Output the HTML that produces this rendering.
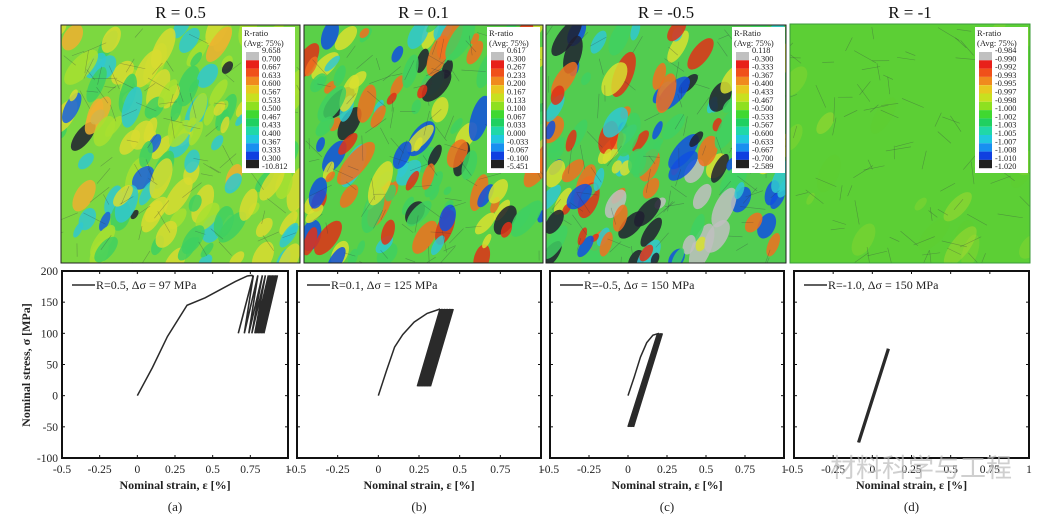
<!DOCTYPE html>
<html><head><meta charset="utf-8">
<style>
html,body{margin:0;padding:0;background:#fff;}
svg{display:block;}
</style></head>
<body>
<svg id="fig" width="1048" height="517" viewBox="0 0 1048 517" xmlns="http://www.w3.org/2000/svg">
<defs>
<clipPath id="clipA"><rect x="61" y="25" width="239" height="238"/></clipPath>
<clipPath id="clipB"><rect x="304" y="25" width="239" height="238"/></clipPath>
<clipPath id="clipC"><rect x="546" y="25" width="240" height="238"/></clipPath>
<clipPath id="clipD"><rect x="790" y="24" width="240" height="239"/></clipPath>
</defs>
<g id="maps"></g>
<g id="plots"></g>
<text x="830" y="477" font-family="Liberation Sans, 'Noto Sans CJK SC', sans-serif" font-size="26" fill="#bbb" fill-opacity="0.7">材料科学与工程</text>
</svg>
<script>
// ---- chart data ----
const xTicks = [-0.5,-0.25,0,0.25,0.5,0.75,1];
const xTickLabels = ["-0.5","-0.25","0","0.25","0.5","0.75","1"];
const yTicks = [200,150,100,50,0,-50,-100];
const yTickLabels = ["200","150","100","50","0","-50","-100"];
const legendLabels = ["R=0.5, \u0394\u03c3 = 97 MPa","R=0.1, \u0394\u03c3 = 125 MPa","R=-0.5, \u0394\u03c3 = 150 MPa","R=-1.0, \u0394\u03c3 = 150 MPa"];
const panelLetters = ["(a)","(b)","(c)","(d)"];
const mapTitles = ["R = 0.5","R = 0.1","R = -0.5","R = -1"];
// monotonic loading curves (strain %, stress MPa)
const loadStrainA = [0,0.1,0.2,0.33,0.45,0.55,0.65,0.73,0.76,0.77];
const loadStressA = [0,45,95,145,157,170,183,192,193,190];
const loadStrainB = [0,0.05,0.1,0.15,0.22,0.3,0.38];
const loadStressB = [0,40,78,98,118,132,139];
const loadStrainC = [0,0.04,0.08,0.12,0.16,0.2];
const loadStressC = [0,30,62,85,97,100];
const loadStrainD = [-0.09,0.1];
const loadStressD = [-75,75];
// cyclic loops: min/max strain per cycle, stress limits
const cycMinA = [0.67,0.71,0.74,0.76,0.78,0.79,0.80,0.81,0.82,0.83,0.84];
const cycMaxA = [0.77,0.80,0.83,0.85,0.87,0.88,0.89,0.90,0.91,0.92,0.93];
const cycStressA = [100,193];
const cycMinB = [0.24,0.25,0.26,0.27,0.28,0.29,0.30,0.31,0.32];
const cycMaxB = [0.38,0.39,0.40,0.41,0.42,0.43,0.44,0.45,0.46];
const cycStressB = [15,139];
const cycMinC = [0.0,0.01,0.02,0.03,0.035];
const cycMaxC = [0.19,0.2,0.21,0.215,0.22];
const cycStressC = [-50,100];
const cycMinD = [-0.09,-0.085];
const cycMaxD = [0.1,0.105];
const cycStressD = [-75,75];
// colorbar labels
const cbLabelsA = ["9.658","0.700","0.667","0.633","0.600","0.567","0.533","0.500","0.467","0.433","0.400","0.367","0.333","0.300","-10.812"];
const cbLabelsB = ["0.617","0.300","0.267","0.233","0.200","0.167","0.133","0.100","0.067","0.033","0.000","-0.033","-0.067","-0.100","-5.451"];
const cbLabelsC = ["0.118","-0.300","-0.333","-0.367","-0.400","-0.433","-0.467","-0.500","-0.533","-0.567","-0.600","-0.633","-0.667","-0.700","-2.589"];
const cbLabelsD = ["-0.984","-0.990","-0.992","-0.993","-0.995","-0.997","-0.998","-1.000","-1.002","-1.003","-1.005","-1.007","-1.008","-1.010","-1.020"];
const cbColors = ["#c0c0c0","#e8201a","#f0501a","#f08a1e","#e8c820","#c8e020","#8ee020","#40d830","#20d060","#20d8a8","#20c8e0","#1890f0","#1040e0","#0010b0","#202020"];

const NS="http://www.w3.org/2000/svg";
function mk(tag,attrs,parent){const e=document.createElementNS(NS,tag);for(const k in attrs)e.setAttribute(k,attrs[k]);parent.appendChild(e);return e;}
const maps=document.getElementById('maps');
const plots=document.getElementById('plots');

// ---- contour maps (decorative texture) ----
let seed=11;function rnd(){seed=(seed*16807)%2147483647;return (seed-1)/2147483646;}
const mapBoxes=[[61,25,239,238,'clipA'],[304,25,239,238,'clipB'],[546,25,240,238,'clipC'],[790,24,240,239,'clipD']];
const palettes=[
 [["#d8dc30",12],["#f0b030",3],["#30c8d0",5],["#1860e0",2],["#202030",1],["#a8e030",10],["#40d060",6]],
 [["#f07020",8],["#e03018",3],["#1050e0",4],["#202030",4],["#30c8d0",4],["#d8e030",6],["#40d060",8],["#c0c0c0",1]],
 [["#f07020",7],["#e03018",3],["#1050e0",5],["#202030",5],["#30c8d0",5],["#d8e030",4],["#40d060",8],["#c0c0c0",4]],
 [["#90d830",6],["#60cc30",6],["#b8dc30",2]]];
const bases=["#7cd840","#5ad048","#52cc50","#5ccf35"];
function pick(p){let t=0;p.forEach(c=>t+=c[1]);let r=rnd()*t;for(const c of p){r-=c[1];if(r<=0)return c[0];}return p[0][0];}
mapBoxes.forEach((b,i)=>{
  const g=mk('g',{'clip-path':'url(#'+b[4]+')'},maps);
  
  
  mk('rect',{x:b[0],y:b[1],width:b[2],height:b[3],fill:bases[i]},g);
  const n=i==3?20:140;
  for(let k=0;k<n;k++){
    const cx=b[0]+rnd()*b[2],cy=b[1]+rnd()*b[3];
    const rx=3+rnd()*7,ry=rx*(1.5+rnd()*1.2);
    mk('ellipse',{cx:cx,cy:cy,rx:rx,ry:ry,fill:pick(palettes[i]),'fill-opacity':i==3?0.4:0.85,transform:`rotate(${15+rnd()*30} ${cx} ${cy})`},g);
  }
  // grain boundaries
  for(let k=0;k<90;k++){
    const x=b[0]+rnd()*b[2],y=b[1]+rnd()*b[3],a=rnd()*Math.PI,l=10+rnd()*16;
    mk('line',{x1:x,y1:y,x2:x+Math.cos(a)*l,y2:y+Math.sin(a)*l,stroke:'#334',"stroke-opacity":0.35,'stroke-width':0.6},g);
  }
  mk('rect',{x:b[0],y:b[1],width:b[2],height:b[3],fill:'none',stroke:i==3?'#3a9a3a':'#222','stroke-width':1},maps);
  const t=mk('text',{x:b[0]+b[2]/2,y:18,'text-anchor':'middle','font-family':'Liberation Serif, serif','font-size':17,fill:'#111'},maps);
  t.textContent=mapTitles[i];
  
  
});
// colorbar legends
const cbPos=[[242,27,'R-ratio',cbLabelsA],[487,27,'R-ratio',cbLabelsB],[732,27,'R-Ratio',cbLabelsC],[975,27,'R-ratio',cbLabelsD]];
cbPos.forEach((c,i)=>{
  const g=mk('g',{},maps);
  
  
  mk('rect',{x:c[0],y:c[1],width:53,height:146,fill:'#fff'},g);
  const t1=mk('text',{x:c[0]+2,y:c[1]+9,'font-family':'Liberation Serif, serif','font-size':8.5,fill:'#222'},g);t1.textContent=c[2];
  const t2=mk('text',{x:c[0]+2,y:c[1]+19,'font-family':'Liberation Serif, serif','font-size':8.5,fill:'#222'},g);t2.textContent='(Avg: 75%)';
  for(let k=0;k<14;k++){
    mk('rect',{x:c[0]+4,y:c[1]+25+k*8.3,width:13,height:8.3,fill:cbColors[k==13?14:k]},g);
  }
  c[3].forEach((l,k)=>{
    const t=mk('text',{x:c[0]+20,y:c[1]+26+k*8.3,'font-family':'Liberation Serif, serif','font-size':8.3,fill:'#222'},g);t.textContent=l;
  });
});

// ---- stress-strain plots ----
const frames=[[62,288],[297,541],[550,784],[794,1029]];
const yTop=271,yBot=458;
const loads=[[loadStrainA,loadStressA],[loadStrainB,loadStressB],[loadStrainC,loadStressC],[loadStrainD,loadStressD]];
const cycs=[[cycMinA,cycMaxA,cycStressA],[cycMinB,cycMaxB,cycStressB],[cycMinC,cycMaxC,cycStressC],[cycMinD,cycMaxD,cycStressD]];
function yS(v){return yBot+(v-(-100))/(300)*(yTop-yBot);}
frames.forEach((f,i)=>{
  const xS=v=>f[0]+(v+0.5)/1.5*(f[1]-f[0]);
  const g=mk('g',{},plots);
  
  
  mk('rect',{x:f[0],y:yTop,width:f[1]-f[0],height:yBot-yTop,fill:'#fff',stroke:'#111','stroke-width':2},g);
  xTicks.forEach((v,k)=>{
    const x=xS(v);
    mk('line',{x1:x,y1:yBot,x2:x,y2:yBot-3,stroke:'#111'},g);
    mk('line',{x1:x,y1:yTop,x2:x,y2:yTop+3,stroke:'#111'},g);
    const t=mk('text',{x:x,y:yBot+15,'text-anchor':'middle','font-family':'Liberation Serif, serif','font-size':11.5,fill:'#222'},g);
    t.textContent=xTickLabels[k];
    
    
  });
  yTicks.forEach((v,k)=>{
    const y=yS(v);
    mk('line',{x1:f[0],y1:y,x2:f[0]+3,y2:y,stroke:'#111'},g);
    mk('line',{x1:f[1],y1:y,x2:f[1]-3,y2:y,stroke:'#111'},g);
    if(i==0){
      const t=mk('text',{x:f[0]-4,y:y+4,'text-anchor':'end','font-family':'Liberation Serif, serif','font-size':11.5,fill:'#222'},g);
      t.textContent=yTickLabels[k];
      
      
    }
  });
  const c=cycs[i];
  if(i>0){
    const n=c[0].length-1;
    const poly=[[c[0][0],c[2][0]],[c[0][n],c[2][0]],[c[1][n],c[2][1]],[c[1][0],c[2][1]]].map(p=>xS(p[0])+','+yS(p[1])).join(' ');
    const pg=mk('polygon',{points:poly,fill:'#2a2a2a'},g);
    
    
  }
  let d='';
  for(let k=0;k<c[0].length;k++){
    d+=`M${xS(c[0][k])},${yS(c[2][0])}L${xS(c[1][k])},${yS(c[2][1])}`;
    if(k+1<c[0].length)d+=`M${xS(c[1][k])},${yS(c[2][1])}L${xS(c[0][k+1])},${yS(c[2][0])}`;
  }
  const cp=mk('path',{d:d,fill:'none',stroke:'#2a2a2a','stroke-width':i==3?2.5:1.6},g);
  
  
  const L=loads[i];
  const lp=mk('polyline',{points:L[0].map((v,k)=>xS(v)+','+yS(L[1][k])).join(' '),fill:'none',stroke:'#2a2a2a','stroke-width':1.5},g);
  
  
  const lg=mk('g',{},g);
  
  
  mk('line',{x1:f[0]+10,y1:285,x2:f[0]+33,y2:285,stroke:'#2a2a2a','stroke-width':1.5},lg);
  const lt=mk('text',{x:f[0]+34,y:289,'font-family':'Liberation Serif, serif','font-size':12,fill:'#222'},lg);
  lt.textContent=legendLabels[i];
  const xt=mk('text',{x:(f[0]+f[1])/2,y:489,'text-anchor':'middle','font-family':'Liberation Serif, serif','font-size':12,'font-weight':'bold',fill:'#222'},g);
  xt.textContent='Nominal strain,   \u03b5 [%]';
  
  
  const pl=mk('text',{x:(f[0]+f[1])/2,y:511,'text-anchor':'middle','font-family':'Liberation Serif, serif','font-size':13,fill:'#222'},g);
  pl.textContent=panelLetters[i];
  
  
});
const yt=mk('text',{x:0,y:0,transform:'translate(30,365) rotate(-90)','text-anchor':'middle','font-family':'Liberation Serif, serif','font-size':12,'font-weight':'bold',fill:'#222'},plots);
yt.textContent='Nominal stress,   \u03c3 [MPa]';


</script>
</body></html>
